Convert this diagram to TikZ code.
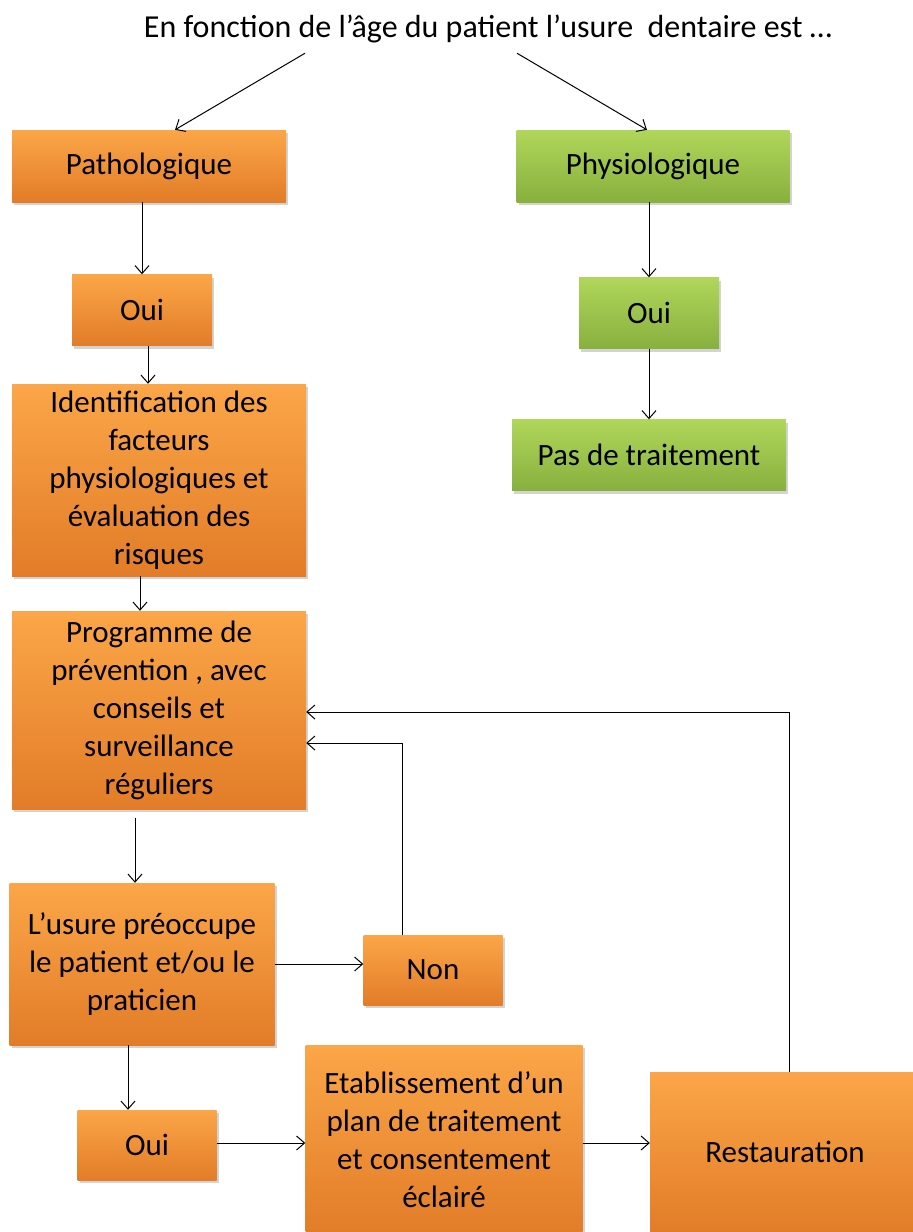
\documentclass[tikz,border=0pt]{standalone}
\usepackage{fontspec}
\setmainfont{Carlito}
\usepackage{tikz}
\usetikzlibrary{arrows.meta,shadows}

\definecolor{orTop}{RGB}{251,166,72}
\definecolor{orBot}{RGB}{226,124,40}
\definecolor{grTop}{RGB}{176,214,90}
\definecolor{grBot}{RGB}{136,176,62}

\begin{document}
\begin{tikzpicture}[x=1pt, y=-1pt,
  box/.style={rectangle, draw=none, align=center, inner sep=2pt,
    font=\fontsize{31}{38}\selectfont,
    drop shadow={opacity=0.35, shadow xshift=2pt, shadow yshift=-3pt}},
  orange/.style={box, top color=orTop, bottom color=orBot},
  green/.style={box, top color=grTop, bottom color=grBot},
  arrow/.style={-{Straight Barb[length=8pt,width=14pt]}, line width=1pt}]
  \clip (0,0) rectangle (913,1232);

  % Nodes
  \node[inner sep=0pt, font=\fontsize{32}{38}\selectfont] (title) at (488,29) {En fonction de l’âge du patient l’usure\ \ dentaire est …};
  \node[orange, minimum width=274pt, minimum height=72pt] (patho) at (149,166) {Pathologique};
  \node[green, minimum width=273pt, minimum height=72pt] (physio) at (653,166) {Physiologique};
  \node[orange, minimum width=140pt, minimum height=71pt] (ouiPatho) at (142,310) {Oui};
  \node[green, minimum width=140pt, minimum height=71pt] (ouiPhysio) at (649,313) {Oui};
  \node[green, minimum width=274pt, minimum height=71pt] (pasTrait) at (649,455) {Pas de traitement};
  \node[orange, minimum width=294pt, minimum height=192pt] (ident) at (159,480) {Identification des\\facteurs\\physiologiques et\\évaluation des\\risques};
  \node[orange, minimum width=294pt, minimum height=198pt] (prog) at (159,710) {Programme de\\prévention , avec\\conseils et\\surveillance\\réguliers};
  \node[orange, minimum width=265pt, minimum height=162pt] (usure) at (142,964) {L’usure préoccupe\\le patient et/ou le\\praticien};
  \node[orange, minimum width=139pt, minimum height=70pt] (non) at (433,970) {Non};
  \node[orange, minimum width=139pt, minimum height=70pt] (ouiUsure) at (147,1145) {Oui};
  \node[orange, minimum width=277pt, minimum height=190pt] (etab) at (444,1140) {Etablissement d’un\\plan de traitement\\et consentement\\éclairé};
  \node[orange, minimum width=270pt, minimum height=160pt] (resto) at (785,1152) {Restauration};

  % Edges
  \draw[arrow] ([xshift=-183pt,yshift=-10pt]title.south) -- ([xshift=26pt]patho.north);
  \draw[arrow] ([xshift=29pt,yshift=-10pt]title.south) -- ([xshift=-6pt]physio.north);
  \draw[arrow] (ouiPatho.north |- patho.south) -- (ouiPatho.north);
  \draw[arrow] (physio.south -| ouiPhysio.north) -- (ouiPhysio.north);
  \draw[arrow] (ouiPhysio.south) -- (pasTrait.north);
  \draw[arrow] ([xshift=6pt]ouiPatho.south) -- ([xshift=6pt]ouiPatho.south |- ident.north);
  \draw[arrow] ([xshift=-19pt]ident.south) -- ([xshift=-19pt]prog.north);
  \draw[arrow] ([xshift=-7pt,yshift=-9pt]usure.north |- prog.south) -- ([xshift=-7pt]usure.north);
  \draw[arrow] (usure.east) -- (usure.east -| non.west);
  \draw[arrow] ([xshift=-31pt]non.north) |- ([yshift=-33pt]prog.east);
  \draw[arrow] ([xshift=-14pt]usure.south) -- ([xshift=-14pt]usure.south |- ouiUsure.north);
  \draw[arrow] ([yshift=2pt]ouiUsure.east) -- ([yshift=2pt]ouiUsure.east -| etab.west);
  \draw[arrow] ([yshift=-3pt]etab.east) -- ([yshift=-3pt]etab.east -| resto.west);
  \draw[arrow] ([xshift=4pt]resto.north) |- ([yshift=-2pt]prog.east);
\end{tikzpicture}
\end{document}
